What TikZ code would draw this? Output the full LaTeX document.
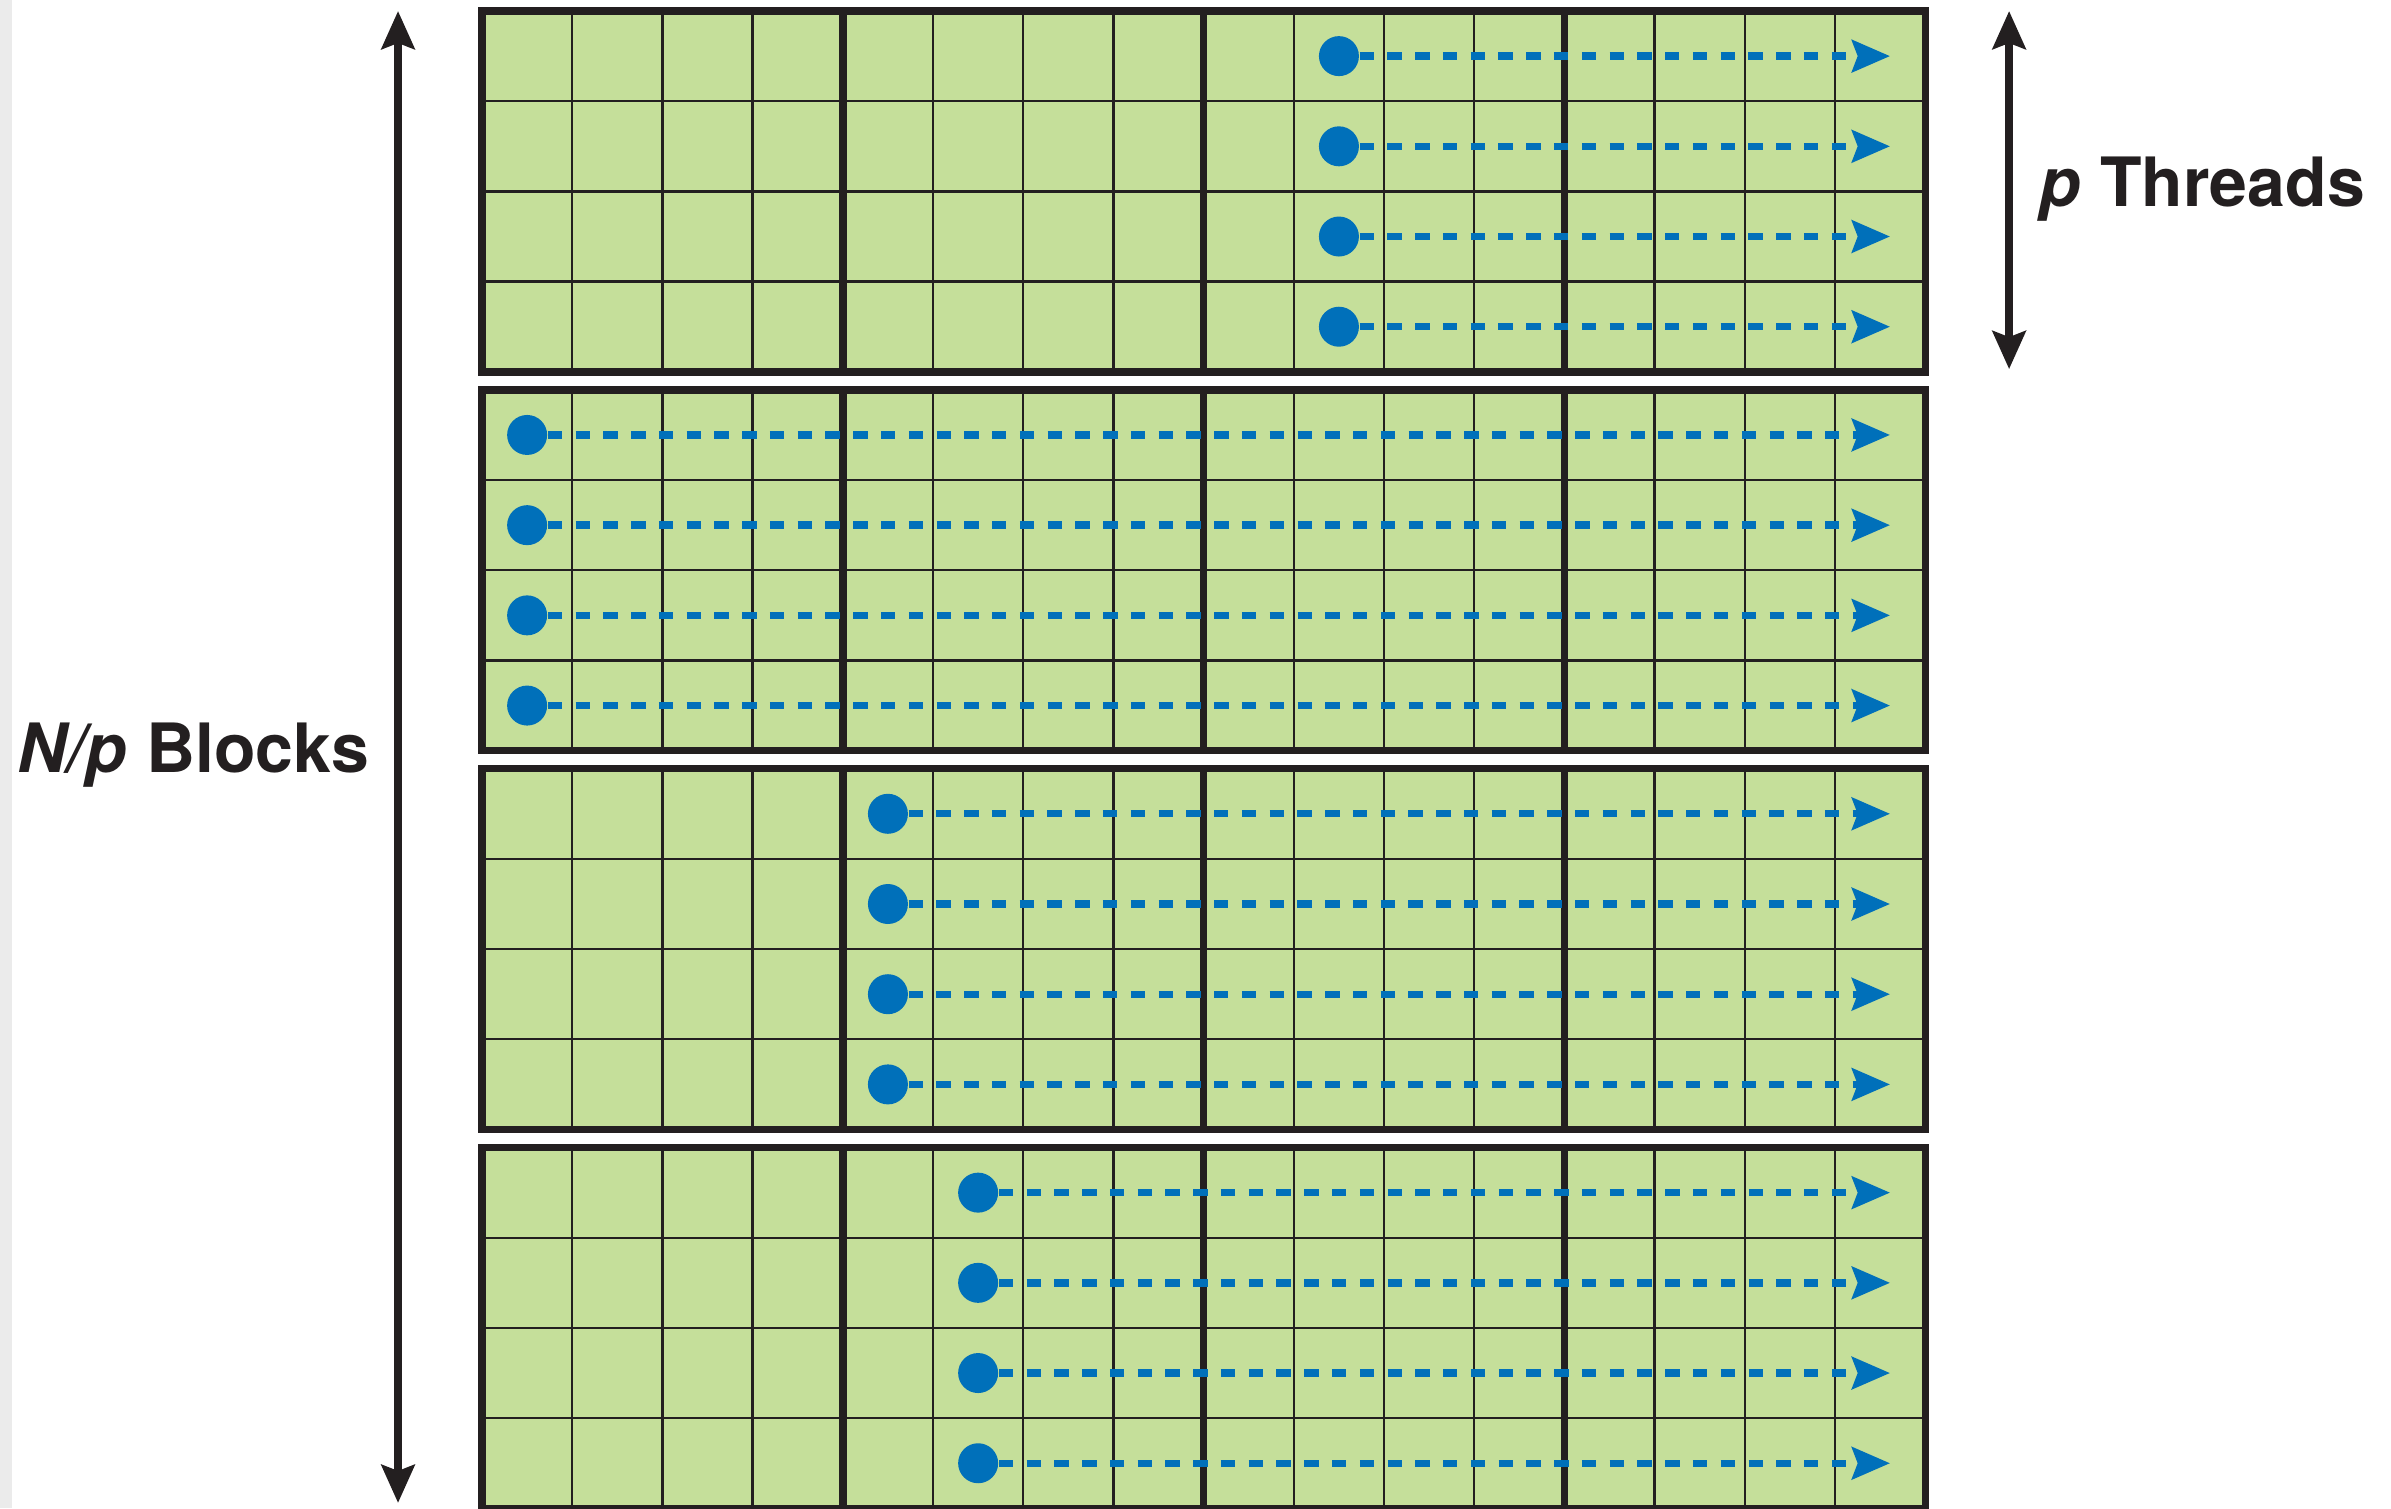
\documentclass[tikz,border=0pt]{standalone}
\usepackage{fontspec}
\setmainfont{TeX Gyre Heros}
\usepackage{tikz}
\usetikzlibrary{arrows.meta}
\definecolor{cellgreen}{HTML}{C5DF9A}
\definecolor{threadblue}{HTML}{0070BA}
\definecolor{inkblack}{HTML}{231F20}
\definecolor{margingray}{HTML}{EBEBEB}

\tikzset{
  thinline/.style={inkblack,line width=0.65pt},
  thickline/.style={inkblack,line width=2.1pt},
  thread/.style={circle,fill=threadblue,inner sep=0pt,minimum size=0.4cm},
  threadpath/.style={threadblue,line width=2.1pt,dash pattern=on 4.1pt off 3.8pt,
    -{Stealth[length=10.8pt,width=9.1pt,inset=1.6pt]}},
  extent/.style={inkblack,line width=2.15pt,
    {Stealth[length=10.8pt,width=9.4pt,inset=1.7pt]}-{Stealth[length=10.8pt,width=9.4pt,inset=1.7pt]}},
  sidetext/.style={font=\fontsize{19.35}{23}\selectfont\bfseries,text=inkblack,
    inner sep=0pt,anchor=base west}
}

\begin{document}
\begin{tikzpicture}[x=0.902cm,y=0.902cm]
  \useasboundingbox (-5.344,-16.597) rectangle (21.164,0.122);
  \fill[margingray] (-5.344,-16.597) rectangle (-5.211,0.122);
  % four blocks of p rows, one start column each
  \foreach \k/\start in {0/9,1/0,2/4,3/5}{
    \pgfmathsetmacro{\ytop}{-4.2*\k}
    \fill[cellgreen] (0,\ytop) rectangle (16,\ytop-4);
    \foreach \i in {1,...,15}
      \draw[thinline] (\i,\ytop) -- (\i,\ytop-4);
    \foreach \j in {1,2,3}
      \draw[thinline] (0,\ytop-\j) -- (16,\ytop-\j);
    \foreach \i in {4,8,12}
      \draw[thickline] (\i,\ytop) -- (\i,\ytop-4);
    \draw[thickline] (0,\ytop) rectangle (16,\ytop-4);
    \foreach \r in {0,...,3}{
      \node[thread] (t\k\r) at (\start+0.5,\ytop-\r-0.5) {};
      \coordinate (e\k\r) at (15.61,\ytop-\r-0.5);
      \draw[threadpath] (t\k\r) -- (e\k\r);
    }
  }
  % extents
  \coordinate (blockstop) at (-0.931,0);
  \coordinate (blocksbot) at (-0.931,-16.54);
  \draw[extent] (blockstop) -- (blocksbot);
  \coordinate (threadstop) at (16.93,0);
  \coordinate (threadsbot) at (16.93,-3.97);
  \draw[extent] (threadstop) -- (threadsbot);
  \node[sidetext] (blocks) at (-5.155,-8.437) {\textit{N/p} Blocks};
  \node[sidetext] (threads) at (17.26,-2.162) {\textit{p} Threads};
\end{tikzpicture}
\end{document}
